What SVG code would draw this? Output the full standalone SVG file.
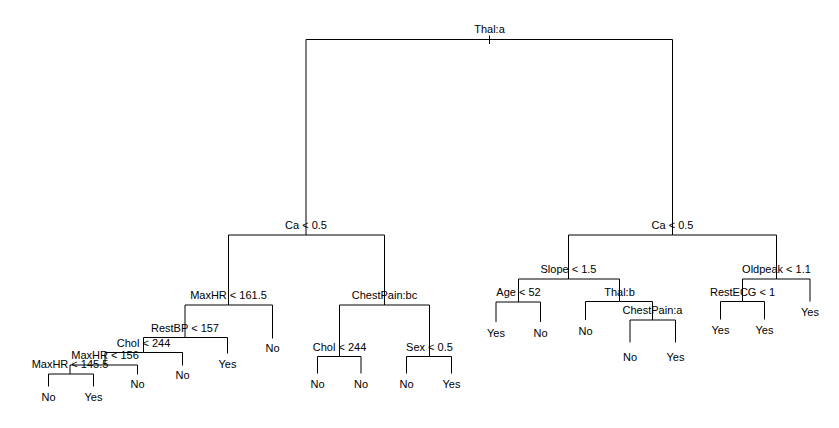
<svg xmlns="http://www.w3.org/2000/svg" width="839" height="428" viewBox="0 0 839 428">
<style>
text{font-family:"Liberation Sans",Arial,Helvetica,sans-serif;font-size:11px;fill:#000;text-anchor:middle}
.e{fill:none;stroke:#000;stroke-width:1}
</style>
<rect width="839" height="428" fill="#fff"/>
<g id="connectors" class="e">
<path d="M489.5 35.5V44"/>
<path d="M489.5 39.5H306V235"/>
<path d="M489.5 39.5H672.5V235"/>
<path d="M306 235H228.5V305"/>
<path d="M306 235H384.5V305"/>
<path d="M228.5 305H185V337.5"/>
<path d="M228.5 305H272.5V338.5"/>
<path d="M185 337.5H143.5V352.5"/>
<path d="M185 337.5H227.5V353.5"/>
<path d="M143.5 352.5H105V365"/>
<path d="M143.5 352.5H182.5V365.5"/>
<path d="M105 365H70V374"/>
<path d="M105 365H137.5V374.5"/>
<path d="M70 374H48.5V386.5"/>
<path d="M70 374H93.5V386.5"/>
<path d="M384.5 305H339.5V356.5"/>
<path d="M384.5 305H429.5V356.5"/>
<path d="M339.5 356.5H317.5V373.5"/>
<path d="M339.5 356.5H361V373.5"/>
<path d="M429.5 356.5H406.5V373.5"/>
<path d="M429.5 356.5H451.5V373.5"/>
<path d="M672.5 235H568.5V279"/>
<path d="M672.5 235H776.5V279"/>
<path d="M568.5 279H518.5V302"/>
<path d="M568.5 279H619.5V301.5"/>
<path d="M518.5 302H496V322"/>
<path d="M518.5 302H540.5V322"/>
<path d="M619.5 301.5H585.5V320"/>
<path d="M619.5 301.5H652.5V320"/>
<path d="M652.5 320H630V342.5"/>
<path d="M652.5 320H675.5V342.5"/>
<path d="M776.5 279H742.5V301.5"/>
<path d="M776.5 279H810V301.5"/>
<path d="M742.5 301.5H720.5V319.5"/>
<path d="M742.5 301.5H764.5V319.5"/>
</g>
<g id="n-root"><text x="489.5" y="33">Thal:a</text></g>
<g id="n-L"><text x="306" y="229">Ca &lt; 0.5</text></g>
<g id="n-LL"><text x="228.5" y="299">MaxHR &lt; 161.5</text></g>
<g id="n-LLL"><text x="185" y="331.5">RestBP &lt; 157</text></g>
<g id="n-LLLL"><text x="143.5" y="346.5">Chol &lt; 244</text></g>
<g id="n-LLLLL"><text x="105" y="359">MaxHR &lt; 156</text></g>
<g id="n-LLLLLL"><text x="70" y="368">MaxHR &lt; 145.5</text></g>
<g id="leaf-1"><text x="48.5" y="400.5">No</text></g>
<g id="leaf-2"><text x="93.5" y="400.5">Yes</text></g>
<g id="leaf-3"><text x="137.5" y="388">No</text></g>
<g id="leaf-4"><text x="182.5" y="379">No</text></g>
<g id="leaf-5"><text x="227.5" y="367.5">Yes</text></g>
<g id="leaf-6"><text x="272.5" y="352">No</text></g>
<g id="n-LR"><text x="384.5" y="299">ChestPain:bc</text></g>
<g id="n-LRL"><text x="339.5" y="350.5">Chol &lt; 244</text></g>
<g id="n-LRR"><text x="429.5" y="350.5">Sex &lt; 0.5</text></g>
<g id="leaf-7"><text x="317.5" y="388">No</text></g>
<g id="leaf-8"><text x="361" y="388">No</text></g>
<g id="leaf-9"><text x="406.5" y="388">No</text></g>
<g id="leaf-10"><text x="451.5" y="388">Yes</text></g>
<g id="n-R"><text x="672.5" y="229">Ca &lt; 0.5</text></g>
<g id="n-RL"><text x="568.5" y="273">Slope &lt; 1.5</text></g>
<g id="n-RLL"><text x="518.5" y="296">Age &lt; 52</text></g>
<g id="leaf-11"><text x="496" y="337">Yes</text></g>
<g id="leaf-12"><text x="540.5" y="337">No</text></g>
<g id="n-RLR"><text x="619.5" y="295.5">Thal:b</text></g>
<g id="leaf-13"><text x="585.5" y="335">No</text></g>
<g id="n-RLRR"><text x="652.5" y="314">ChestPain:a</text></g>
<g id="leaf-14"><text x="630" y="361">No</text></g>
<g id="leaf-15"><text x="675.5" y="361">Yes</text></g>
<g id="n-RR"><text x="776.5" y="273">Oldpeak &lt; 1.1</text></g>
<g id="n-RRL"><text x="742.5" y="295.5">RestECG &lt; 1</text></g>
<g id="leaf-16"><text x="720.5" y="333.5">Yes</text></g>
<g id="leaf-17"><text x="764.5" y="333.5">Yes</text></g>
<g id="leaf-18"><text x="810" y="316">Yes</text></g>
</svg>
